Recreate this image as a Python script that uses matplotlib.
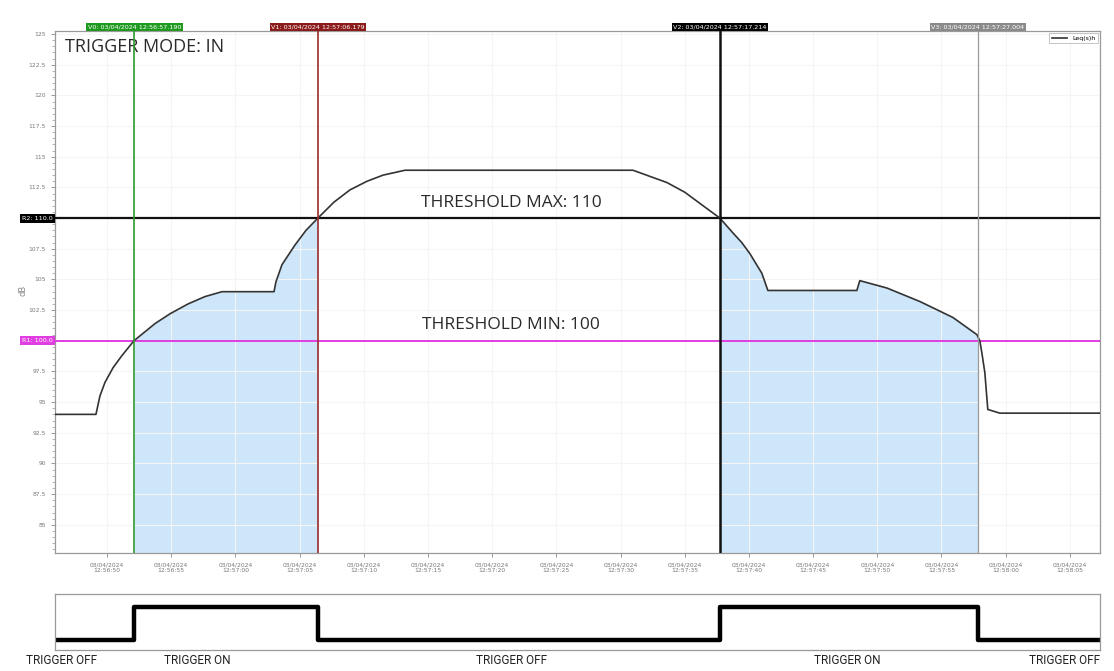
import matplotlib.pyplot as plt
import numpy as np

# time in seconds after 03/04/2024 12:56:50, level in dB
t = [-4.1, -0.86, -0.55, -0.16, 0.47, 1.17, 2.10, 3.74, 4.91, 6.31, 7.63, 8.96,
     13.01, 13.16, 13.63, 14.64, 15.50, 16.43, 17.68, 18.93, 20.25, 21.50, 23.21,
     40.97, 43.61, 45.02, 46.18, 47.74, 48.75, 49.45, 50.08, 51.01, 51.48,
     58.41, 58.64, 60.75, 63.32, 65.89, 67.76, 67.99, 68.15, 68.38, 68.61, 69.55, 77.5]
level = [94.0, 94.0, 95.5, 96.6, 97.8, 98.8, 100.0, 101.4, 102.2, 103.0, 103.6, 104.0,
         104.0, 104.8, 106.2, 107.8, 109.0, 110.0, 111.3, 112.3, 113.0, 113.5, 113.9,
         113.9, 112.9, 112.1, 111.2, 110.0, 108.8, 108.0, 107.1, 105.5, 104.1,
         104.1, 104.9, 104.3, 103.2, 101.9, 100.5, 100.0, 99.0, 97.4, 94.4, 94.1, 94.1]

cursor_t = [2.14, 16.43, 47.74, 67.83]
cursor_lbl = ["V0: 03/04/2024 12:56:57.190", "V1: 03/04/2024 12:57:06.179",
              "V2: 03/04/2024 12:57:17.214", "V3: 03/04/2024 12:57:27.004"]
cursor_col = ["#2e9a2e", "#9e2a2a", "#111111", "#9a9a9a"]
cursor_box = ["#1f9a1f", "#8b1a1a", "#000000", "#8a8a8a"]
cursor_lw = [1.2, 1.2, 1.8, 0.9]

thr_max = 110
thr_min = 100

tick_sec = [0, 5, 10, 15, 20, 25, 30, 35, 40, 45, 50, 55, 60, 65, 70, 75]
tick_lbl = ["12:56:50", "12:56:55", "12:57:00", "12:57:05", "12:57:10", "12:57:15",
            "12:57:20", "12:57:25", "12:57:30", "12:57:35", "12:57:40", "12:57:45",
            "12:57:50", "12:57:55", "12:58:00", "12:58:05"]

# trigger state (0 off / 1 on) switching at the cursors
trig_t = [-4.1, 2.14, 16.43, 47.74, 67.83, 77.5]
trig_state = [0, 1, 0, 1, 0, 0]
trig_names = ["TRIGGER OFF", "TRIGGER ON", "TRIGGER OFF", "TRIGGER ON", "TRIGGER OFF"]

W, H = 1114, 671
fig = plt.figure(figsize=(W / 100, H / 100), dpi=100)
ax = fig.add_axes([55 / W, 1 - 553 / H, 1045 / W, 522 / H])
xmin, xmax = -4.05, 77.35
ymin, ymax = 82.7, 125.25

t = np.array(t)
level = np.array(level)

# shaded areas between V0-V1 and V2-V3
for a, b in [(cursor_t[0], cursor_t[1]), (cursor_t[2], cursor_t[3])]:
    xs = np.linspace(a, b, 300)
    ax.fill_between(xs, ymin, np.interp(xs, t, level), color="#cde6f9", lw=0, zorder=1)

ax.plot(t, level, color="#333333", lw=1.2, zorder=4, label="Leq(s)h")

ax.axhline(thr_max, color="#111111", lw=1.6, zorder=3)
ax.axhline(thr_min, color="#e03ee0", lw=1.4, zorder=3)

for x, lbl, c, bc, lw in zip(cursor_t, cursor_lbl, cursor_col, cursor_box, cursor_lw):
    ax.axvline(x, color=c, lw=lw, zorder=5)
    ax.text(x, 1.003, lbl, transform=ax.get_xaxis_transform(), ha="center", va="bottom",
            fontsize=4.6, color="white",
            bbox=dict(boxstyle="square,pad=0.25", fc=bc, ec="none"))

# value markers on the y axis
for y, lbl, bc in [(thr_max, "R2: 110.0", "#000000"), (thr_min, "R1: 100.0", "#e03ee0")]:
    ax.text(-0.002, y, lbl, transform=ax.get_yaxis_transform(), ha="right", va="center",
            fontsize=4.6, color="white", zorder=6,
            bbox=dict(boxstyle="square,pad=0.3", fc=bc, ec="none"))

ax.set_xlim(xmin, xmax)
ax.set_ylim(ymin, ymax)

yt = np.arange(85, 125.1, 2.5)
ax.set_yticks(yt)
ax.set_yticklabels(["" if v in (thr_max, thr_min) else ("%g" % v) for v in yt])
ax.set_yticks(np.arange(83, 125.1, 0.5), minor=True)
ax.set_xticks(tick_sec)
ax.set_xticklabels(["03/04/2024\n" + s for s in tick_lbl])
ax.tick_params(axis="both", labelsize=4.3, labelcolor="#777777", color="#888888",
               length=3, width=0.6)
ax.tick_params(axis="y", which="minor", length=2, width=0.5, color="#999999")
ax.grid(True, color="#f5f5f5", lw=0.8, zorder=0)
for sp in ax.spines.values():
    sp.set_color("#999999")
    sp.set_linewidth(0.9)
ax.set_ylabel("dB", fontsize=6, color="#888888")
ax.yaxis.set_label_coords(-0.026, 0.504)

leg = ax.legend(loc="upper right", fontsize=4.5, frameon=True, fancybox=False,
                handlelength=2.5, borderpad=0.4, borderaxespad=0.3)
leg.get_frame().set_edgecolor("#aaaaaa")
leg.get_frame().set_linewidth(0.6)

txt_font = ["Open Sans", "DejaVu Sans"]
ax.text(65 / W, 1 - 47 / H, "TRIGGER MODE: IN", transform=fig.transFigure, ha="left",
        va="center", fontsize=13, color="#2a2a2a", family=txt_font)
ax.text(31.5, thr_max + 0.6, "THRESHOLD MAX: " + str(thr_max), ha="center", va="bottom",
        fontsize=12.5, color="#2a2a2a", family=txt_font, zorder=6)
ax.text(31.5, thr_min + 0.6, "THRESHOLD MIN: " + str(thr_min), ha="center", va="bottom",
        fontsize=12.5, color="#2a2a2a", family=txt_font, zorder=6)

# trigger state strip
ax2 = fig.add_axes([55 / W, 1 - 650 / H, 1045 / W, 56 / H])
ax2.step(trig_t, trig_state, where="post", color="black", lw=3.2)
ax2.set_xlim(xmin, xmax)
ax2.set_ylim(-0.30, 1.395)
ax2.set_xticks([])
ax2.set_yticks([])
for sp in ax2.spines.values():
    sp.set_color("#999999")
    sp.set_linewidth(0.9)

name_px = [62, 197, 512, 847, 1065]
for px, name in zip(name_px, trig_names):
    fig.text(px / W, 1 - 661 / H, name, ha="center", va="center", fontsize=8.5,
             color="#222222", family=["Roboto", "DejaVu Sans"])

fig.savefig("out.png", dpi=100)
